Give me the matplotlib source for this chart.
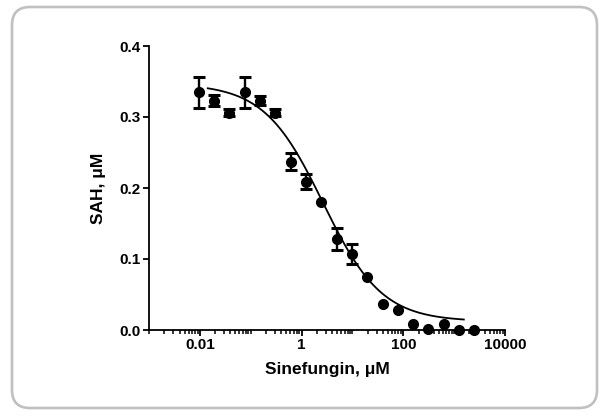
import numpy as np
import matplotlib
matplotlib.use("Agg")
import matplotlib.pyplot as plt
from matplotlib.patches import FancyBboxPatch
from matplotlib.transforms import IdentityTransform
from matplotlib.ticker import FixedLocator, FixedFormatter, LogLocator, NullFormatter

plt.rcParams['font.family'] = ['Liberation Sans', 'DejaVu Sans']
plt.rcParams['font.weight'] = 'bold'

nan = float("nan")

# sinefungin concentration (uM) and SAH produced (uM), mean +/- error
conc = [0.0095, 0.019, 0.038, 0.076, 0.153, 0.305, 0.61, 1.22, 2.44, 4.88,
        9.77, 19.5, 39.1, 78.1, 156.25, 312.5, 625, 1250, 2500]
sah = [0.335, 0.323, 0.306, 0.335, 0.323, 0.306, 0.237, 0.209, 0.180, 0.128,
       0.107, 0.074, 0.037, 0.028, 0.009, 0.002, 0.008, 0.000, 0.000]
# nan = error bar hidden behind the symbol
sah_err = [0.022, 0.008, 0.005, 0.022, 0.006, 0.005, 0.012, 0.011, nan, 0.016,
           0.014, nan, nan, nan, nan, nan, nan, nan, nan]

# fitted 4-parameter logistic curve
fit_top = 0.347
fit_bottom = 0.012
fit_logic50 = 0.42
fit_hill = 0.75
fit_xmin = 0.0143
fit_xmax = 1550

x_ticks = [0.01, 1, 100, 10000]
x_tick_labels = ["0.01", "1", "100", "10000"]
y_ticks = [0.0, 0.1, 0.2, 0.3, 0.4]
y_tick_labels = ["0.0", "0.1", "0.2", "0.3", "0.4"]

def logistic4(x, top, bottom, logic50, hill):
  return bottom + (top - bottom) / (1. + np.power(x / 10**logic50, hill))

fig = plt.figure(figsize=(6.08, 4.16), dpi=100)

# rounded grey frame around the whole figure
frame = FancyBboxPatch((12, 8), 585, 401, boxstyle="round,pad=0,rounding_size=18",
                       transform=IdentityTransform(), facecolor="none",
                       edgecolor="#c0c0c0", linewidth=1.9)
fig.add_artist(frame)

ax = fig.add_axes([149/608, 1 - 330/416, 356/608, 284/416])

xfit = np.logspace(np.log10(fit_xmin), np.log10(fit_xmax), 300)
ax.plot(xfit, logistic4(xfit, fit_top, fit_bottom, fit_logic50, fit_hill),
        color="black", lw=1.3, zorder=2)
ax.errorbar(conc, sah, yerr=sah_err, fmt="none", ecolor="black", elinewidth=1.7,
            capsize=4.0, capthick=2.2, zorder=3)
ax.plot(conc, sah, "o", color="black", markersize=7.0, zorder=4, clip_on=False)

ax.set_xscale("log")
ax.set_xlim(0.001, 10000)
ax.set_ylim(0, 0.4)

ax.xaxis.set_major_locator(FixedLocator(x_ticks))
ax.xaxis.set_major_formatter(FixedFormatter(x_tick_labels))
ax.xaxis.set_minor_locator(LogLocator(base=10, subs=np.arange(1, 10), numticks=50))
ax.xaxis.set_minor_formatter(NullFormatter())
ax.yaxis.set_major_locator(FixedLocator(y_ticks))
ax.yaxis.set_major_formatter(FixedFormatter(y_tick_labels))

for s in ["top", "right"]:
  ax.spines[s].set_visible(False)
for s in ["left", "bottom"]:
  ax.spines[s].set_linewidth(1.3)

ax.tick_params(axis="both", which="major", direction="out", width=1.3, length=4.0,
               labelsize=11, pad=2)
ax.tick_params(axis="x", which="minor", direction="out", width=1.1, length=2.8)
for lab in ax.get_xticklabels() + ax.get_yticklabels():
  lab.set_fontweight("bold")

ax.set_xlabel("Sinefungin, \u03bcM", fontsize=12.5, fontweight="bold", labelpad=7)
ax.set_ylabel("SAH, \u03bcM", fontsize=12.5, fontweight="bold", labelpad=10)

plt.savefig("out.png", dpi=100)
